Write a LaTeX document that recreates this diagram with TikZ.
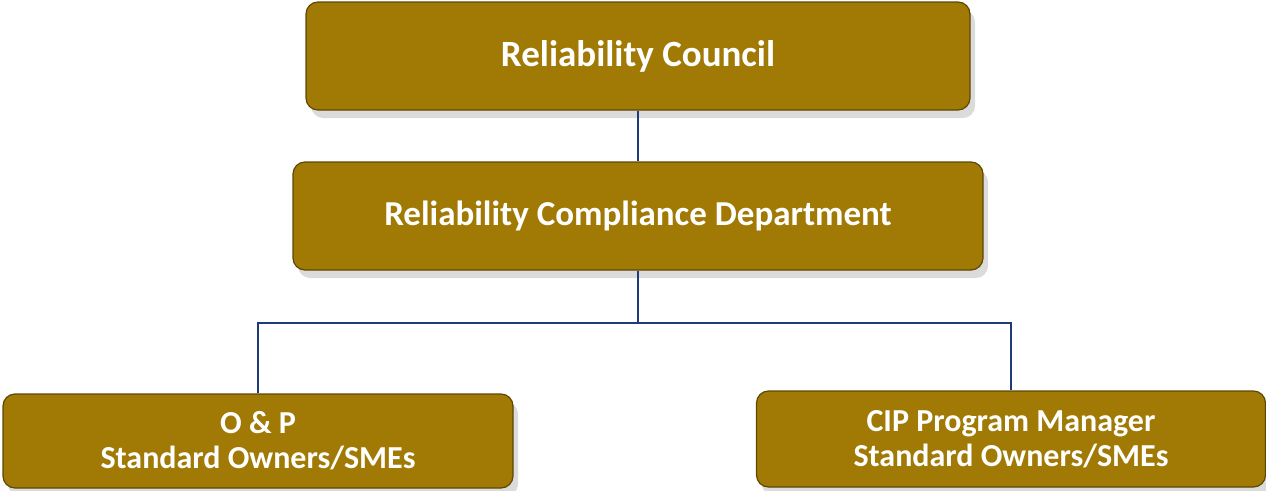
\documentclass[tikz,border=0pt]{standalone}
\usepackage{fontspec}
\setmainfont{Carlito}
\usetikzlibrary{shadows}
\definecolor{gold}{HTML}{A07A05}
\definecolor{golddark}{HTML}{5E4604}
\definecolor{goldlight}{HTML}{C9A23A}
\definecolor{linkblue}{HTML}{1F3A78}
\tikzset{
  orgbox/.style = {rectangle, rounded corners=12pt, fill=gold, draw=golddark,
    line width=1.2pt, align=center, inner sep=0pt, text=white,
    drop shadow={shadow xshift=5pt, shadow yshift=-8pt, fill=black!40, opacity=.35}},% boite d'organigramme
  bigtxt/.style = {font=\fontsize{37}{44}\selectfont\bfseries},
  midtxt/.style = {font=\fontsize{35}{42}\selectfont\bfseries},
  smalltxt/.style = {font=\fontsize{32}{35}\selectfont\bfseries},
  link/.style = {draw=linkblue, line width=1.6pt}% trait de liaison
}

\begin{document}
\begin{tikzpicture}[x=1pt,y=-1pt]
    \useasboundingbox (0,0) rectangle (1266,490);
    \node [orgbox, bigtxt, minimum width=664pt, minimum height=108pt] (council) at (638,56) {Reliability Council};
    \node [orgbox, midtxt, minimum width=690pt, minimum height=108pt] (dept) at (638,216) {Reliability Compliance Department};
    \node [orgbox, smalltxt, minimum width=510pt, minimum height=94pt] (op) at (258,441) {O \& P\\Standard Owners/SMEs};
    \node [orgbox, smalltxt, minimum width=509pt, minimum height=96pt] (cip) at (1011,439) {CIP Program Manager\\Standard Owners/SMEs};
    % liaisons
    \coordinate (fork) at (638,323);
    \draw [link] (council) -- (dept);
    \draw [link] (dept) -- (fork);
    \draw [link] (op.north) |- (fork) -| (cip.north);
\end{tikzpicture}
\end{document}
